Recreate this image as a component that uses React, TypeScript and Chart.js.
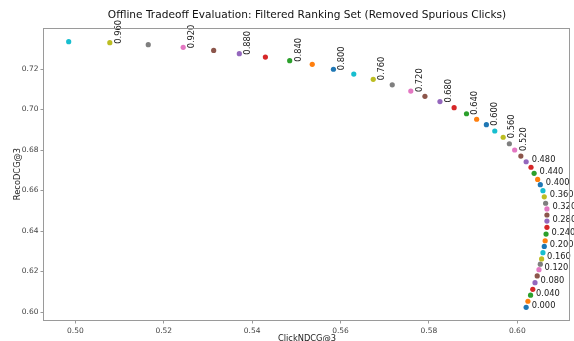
import React, { useEffect, useRef } from "react";
import { Chart, registerables } from "chart.js";

Chart.register(...registerables);

const alphas = [
  0.0, 0.02, 0.04, 0.06, 0.08, 0.1, 0.12, 0.14, 0.16, 0.18,
  0.2, 0.22, 0.24, 0.26, 0.28, 0.3, 0.32, 0.34, 0.36, 0.38,
  0.4, 0.42, 0.44, 0.46, 0.48, 0.5, 0.52, 0.54, 0.56, 0.58,
  0.6, 0.62, 0.64, 0.66, 0.68, 0.7, 0.72, 0.74, 0.76, 0.78,
  0.8, 0.82, 0.84, 0.86, 0.88, 0.9, 0.92, 0.94, 0.96, 0.98,
];

const clickNdcg = [
  0.602, 0.6024, 0.603, 0.6035, 0.604, 0.6045, 0.6049, 0.6052, 0.6055, 0.6058,
  0.6061, 0.6063, 0.6065, 0.6067, 0.6067, 0.6067, 0.6067, 0.6064, 0.6061, 0.6058,
  0.6052, 0.6046, 0.6038, 0.6031, 0.602, 0.6008, 0.5994, 0.5982, 0.5968, 0.5949,
  0.593, 0.5908, 0.5885, 0.5857, 0.5825, 0.5791, 0.5759, 0.5717, 0.5674, 0.563,
  0.5584, 0.5536, 0.5485, 0.543, 0.5371, 0.5313, 0.5244, 0.5165, 0.5078, 0.4985,
];

const recoNdcg = [
  0.6023, 0.6053, 0.6083, 0.6112, 0.6145, 0.6178, 0.6209, 0.6236, 0.6262, 0.6293,
  0.6324, 0.6352, 0.6385, 0.6418, 0.6449, 0.6479, 0.6509, 0.6537, 0.6569, 0.6599,
  0.6629, 0.6655, 0.6685, 0.6715, 0.6742, 0.677, 0.68, 0.6831, 0.6863, 0.6894,
  0.6925, 0.6952, 0.6979, 0.7009, 0.7039, 0.7065, 0.7091, 0.7122, 0.7149, 0.7175,
  0.7199, 0.7223, 0.7241, 0.7259, 0.7276, 0.7292, 0.7307, 0.732, 0.733, 0.7335,
];

const xTicks = [0.5, 0.52, 0.54, 0.56, 0.58, 0.6];
const yTicks = [0.6, 0.62, 0.64, 0.66, 0.68, 0.7, 0.72];

const palette = [
  "#1f77b4", "#ff7f0e", "#2ca02c", "#d62728", "#9467bd",
  "#8c564b", "#e377c2", "#7f7f7f", "#bcbd22", "#17becf",
];

const TITLE = "Offline Tradeoff Evaluation: Filtered Ranking Set (Removed Spurious Clicks)";
const FONT = "'DejaVu Sans', sans-serif";
const SPINE = "#9a9a9a";

export default function App() {
  const ref = useRef<HTMLCanvasElement>(null);

  useEffect(() => {
    if (!ref.current) return;

    const labelPlugin = {
      id: "pointLabels",
      afterDatasetsDraw(chart: any) {
        const ctx = chart.ctx;
        const meta = chart.getDatasetMeta(0);
        ctx.save();
        ctx.font = `8.3px ${FONT}`;
        ctx.fillStyle = "#222";
        ctx.textAlign = "left";
        ctx.textBaseline = "alphabetic";
        meta.data.forEach((el: any, i: number) => {
          if (i % 2 !== 0) return;
          const a = alphas[i];
          const txt = a.toFixed(3);
          const x = el.x;
          const y = el.y;
          if (a > 0.5) {
            ctx.save();
            ctx.translate(x + 11, y + 1);
            ctx.rotate(-Math.PI / 2);
            ctx.fillText(txt, 0, 0);
            ctx.restore();
          } else {
            ctx.fillText(txt, x + 5.5, y + 0.5);
          }
        });
        ctx.restore();
      },
    };

    const framePlugin = {
      id: "frame",
      afterDraw(chart: any) {
        const { left, top, right, bottom } = chart.chartArea;
        const ctx = chart.ctx;
        ctx.save();
        ctx.strokeStyle = SPINE;
        ctx.lineWidth = 1;
        ctx.strokeRect(Math.round(left) - 0.5, Math.round(top) + 0.5, Math.round(right - left), Math.round(bottom - top));
        ctx.restore();
      },
    };

    const chart = new Chart(ref.current, {
      type: "scatter",
      data: {
        datasets: [
          {
            data: clickNdcg.map((x, i) => ({ x, y: recoNdcg[i] })),
            pointBackgroundColor: clickNdcg.map((_, i) => palette[i % palette.length]),
            pointBorderWidth: 0,
            pointRadius: 2.6,
            showLine: false,
          },
        ],
      },
      options: {
        animation: false,
        responsive: true,
        maintainAspectRatio: false,
        layout: { padding: { top: 0, right: 1, bottom: 0, left: 0 } },
        plugins: {
          legend: { display: false },
          tooltip: { enabled: false },
          title: {
            display: true,
            text: TITLE,
            fullSize: false,
            color: "#111",
            font: { family: FONT, size: 10.6, weight: "normal" as any, lineHeight: 1.2 },
            padding: { top: 8.6, bottom: 6.7 },
          },
        },
        scales: {
          x: {
            type: "linear",
            min: 0.49291,
            max: 0.61192,
            afterBuildTicks: (s: any) => {
              s.ticks = xTicks.map((v) => ({ value: v }));
            },
            afterFit: (s: any) => {
              s.height = 21;
            },
            grid: { display: true, drawOnChartArea: false, drawTicks: true, tickLength: 3.5, color: SPINE },
            border: { display: false },
            ticks: {
              autoSkip: false,
              maxRotation: 0,
              padding: 3,
              color: "#444",
              font: { family: FONT, size: 7.5 },
              callback: (v: any) => Number(v).toFixed(2),
            },
            title: {
              display: true,
              text: "ClickNDCG@3",
              color: "#222",
              font: { family: FONT, size: 8.3, lineHeight: 0.6 },
              padding: { top: 0, bottom: 0 },
            },
          },
          y: {
            type: "linear",
            min: 0.59605,
            max: 0.74025,
            afterBuildTicks: (s: any) => {
              s.ticks = yTicks.map((v) => ({ value: v }));
            },
            afterFit: (s: any) => {
              s.width = 44;
            },
            grid: { display: true, drawOnChartArea: false, drawTicks: true, tickLength: 3.5, color: SPINE },
            border: { display: false },
            ticks: {
              autoSkip: false,
              padding: 2,
              color: "#444",
              font: { family: FONT, size: 7.5 },
              callback: (v: any) => Number(v).toFixed(2),
            },
            title: {
              display: true,
              text: "RecoDCG@3",
              color: "#222",
              font: { family: FONT, size: 8.3 },
              padding: { top: 13, bottom: 0 },
            },
          },
        },
      },
      plugins: [labelPlugin, framePlugin],
    } as any);

    return () => chart.destroy();
  }, []);

  return (
    <div style={{ position: "fixed", left: 0, top: 0, width: 574, height: 341, background: "#fff" }}>
      <canvas ref={ref} />
    </div>
  );
}
